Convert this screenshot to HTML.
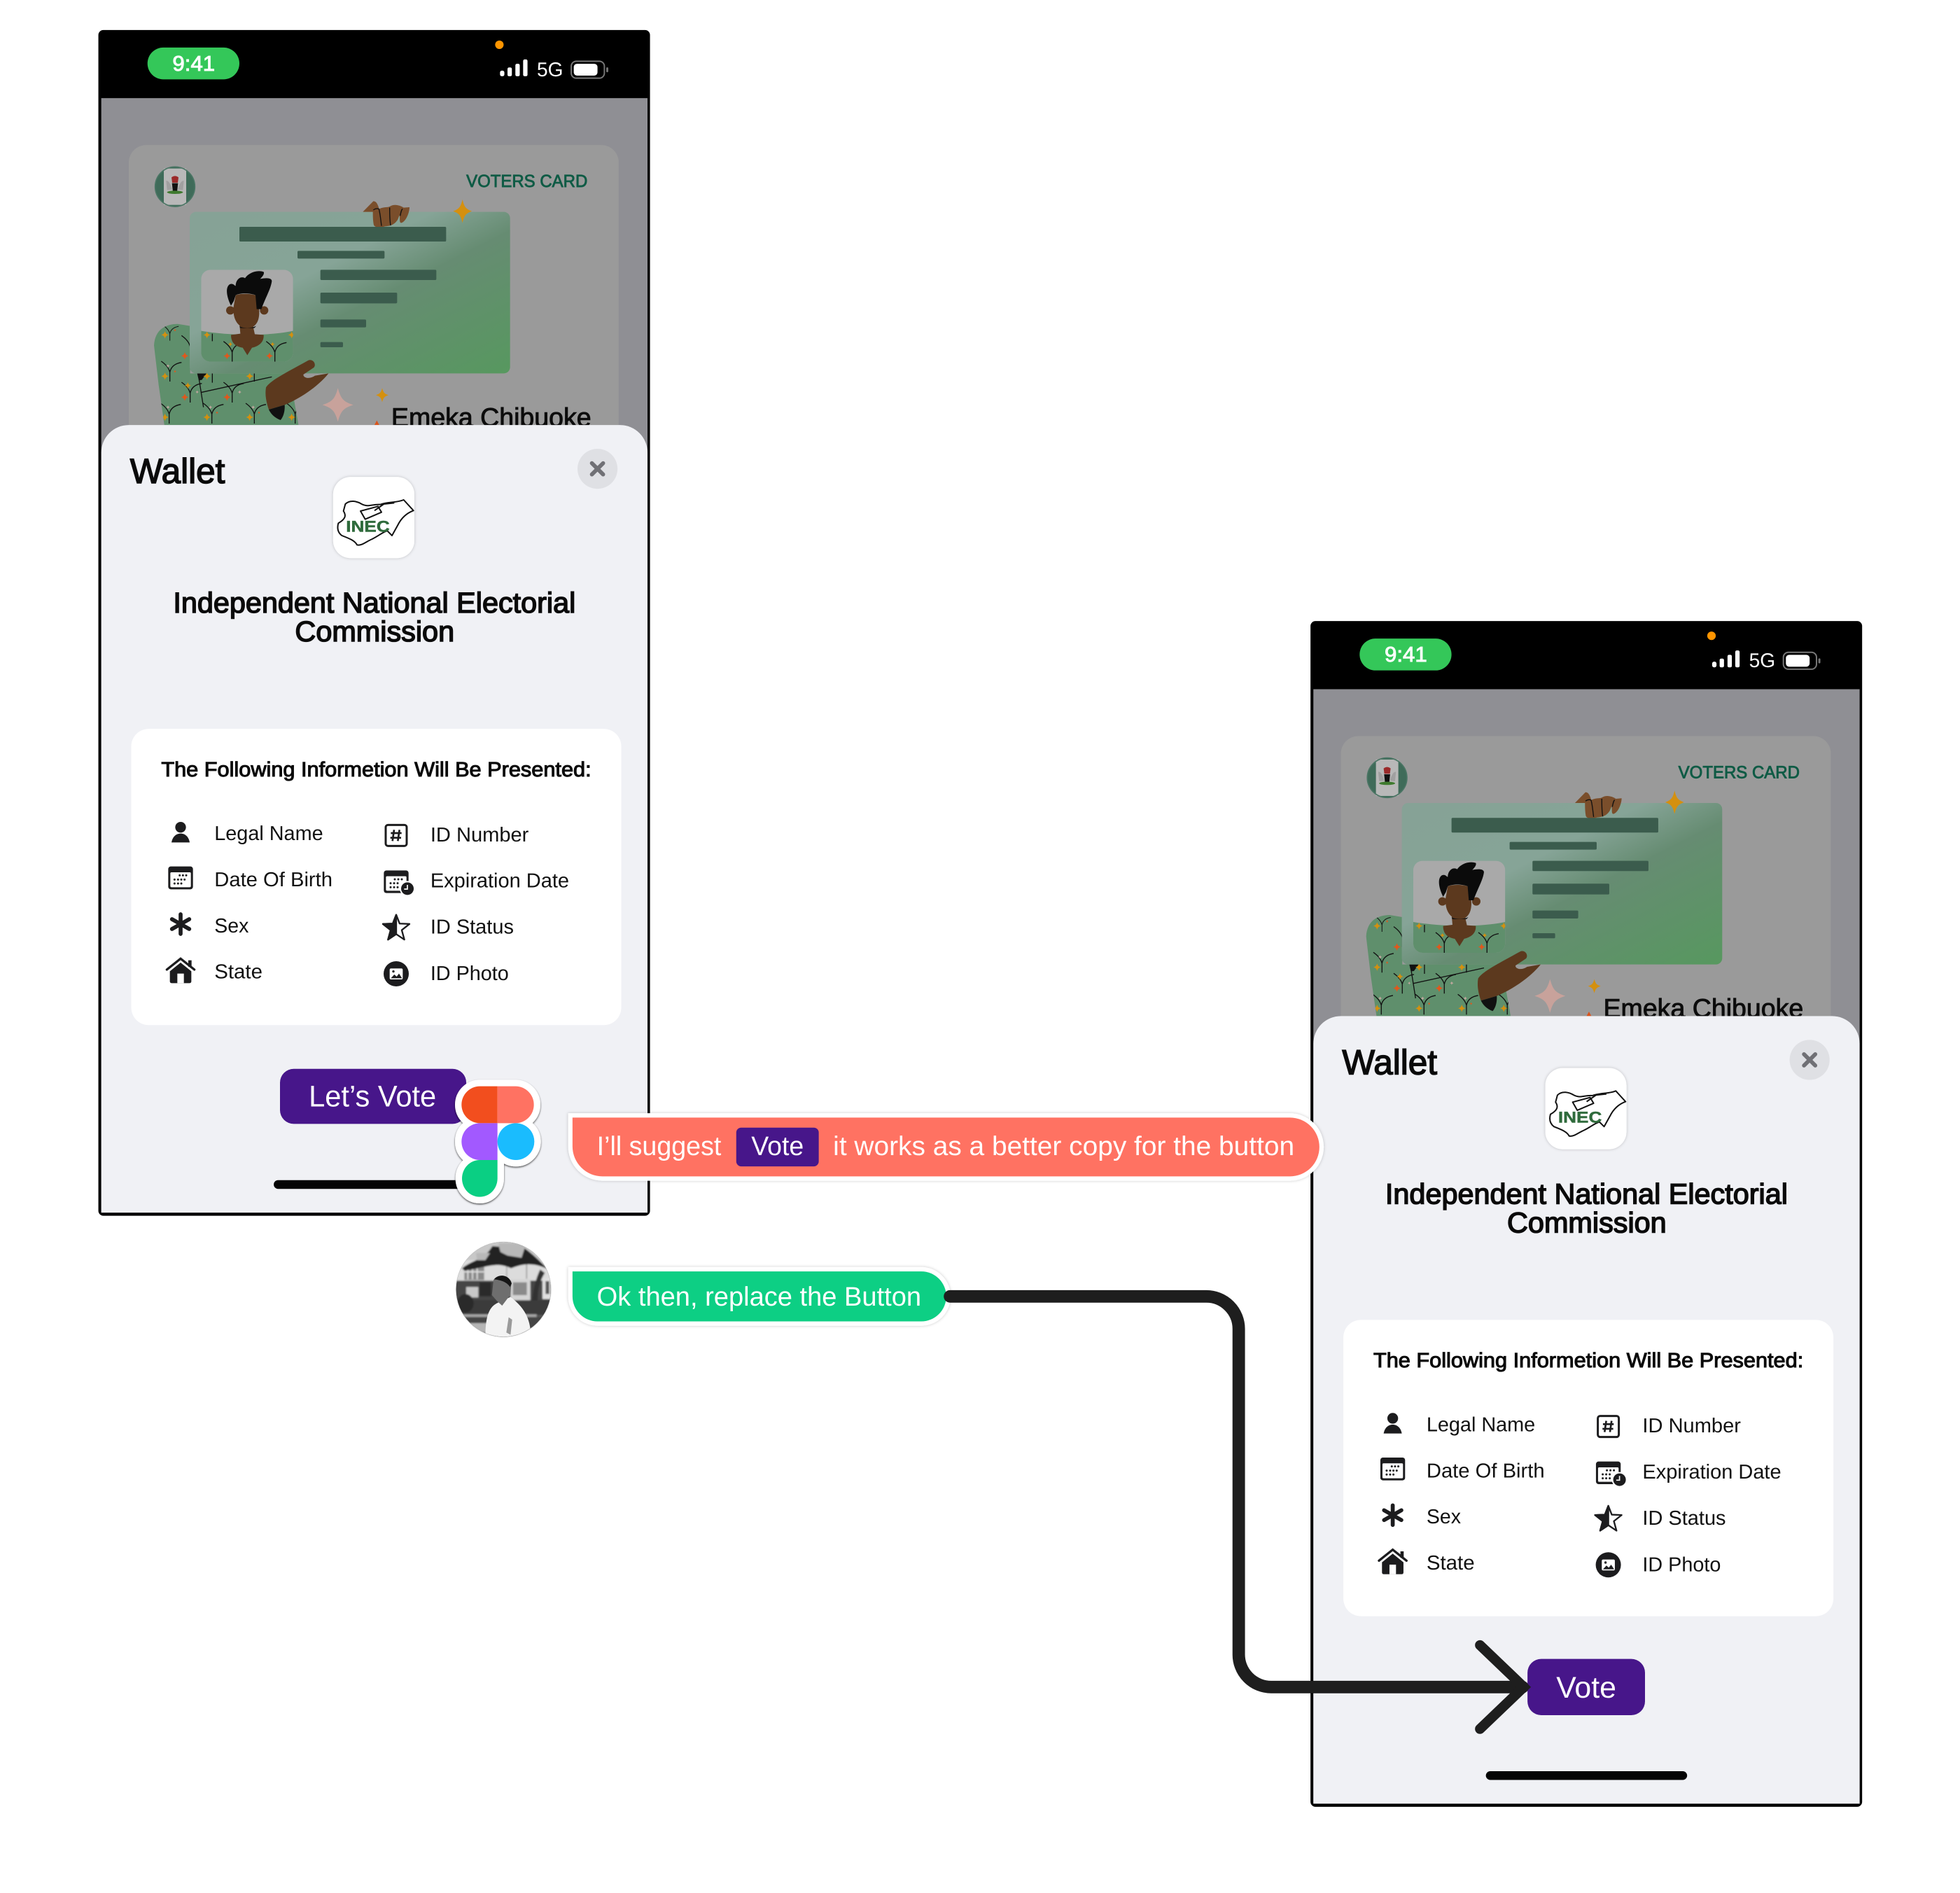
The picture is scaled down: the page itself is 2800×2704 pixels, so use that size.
<!DOCTYPE html>
<html><head><meta charset="utf-8"><title>Wallet button copy review</title>
<style>
html,body{margin:0;padding:0;background:#fff}
svg{display:block;width:2800px;height:2704px}
text{font-family:"Liberation Sans",sans-serif;text-rendering:geometricPrecision}
.l{font-size:16.2px;fill:#111}
.b{fill:#0a0a0a;stroke:#0a0a0a;stroke-width:.85px}
.s{stroke-width:.6px}
.m{stroke-width:.5px}
</style></head><body>
<svg xmlns="http://www.w3.org/2000/svg" viewBox="0 0 1568 1514.24">
<defs>
<linearGradient id="idg" x1="0" y1="0" x2="1" y2="1">
<stop offset="0" stop-color="#86a296"/><stop offset=".38" stop-color="#86a497"/><stop offset=".56" stop-color="#668c72"/><stop offset="1" stop-color="#57985f"/>
</linearGradient>
<clipPath id="bodyclip"><path d="M120 880C125 810 170 790 220 788L275 797V1000H700L740 1225H165L140 1050Z"/></clipPath>
<clipPath id="photoclip"><rect x="322" y="556" width="394" height="394" rx="40"/></clipPath>
<clipPath id="cardclip"><rect x="103" y="116" width="392" height="224"/></clipPath>
<clipPath id="avclip"><circle cx="268" cy="215" r="203"/></clipPath>
<filter id="soft" x="-20%" y="-20%" width="140%" height="140%"><feDropShadow dx="0" dy="0" stdDeviation="1.2" flood-color="#000" flood-opacity=".22"/></filter>
<filter id="fig" x="-20%" y="-20%" width="140%" height="140%"><feDropShadow dx="0" dy="4" stdDeviation="4" flood-color="#000" flood-opacity=".7"/></filter>
<filter id="av" x="-20%" y="-20%" width="140%" height="140%"><feDropShadow dx="0" dy="0.6" stdDeviation="1.2" flood-color="#000" flood-opacity=".55"/></filter>
<filter id="bl" x="-5%" y="-5%" width="110%" height="110%"><feGaussianBlur stdDeviation="3"/></filter>
<path id="st" d="M0-1C.2-.35.35-.2 1 0C.35.2.2.35 0 1C-.2.35-.35.2-1 0C-.35-.2-.2-.35 0-1Z"/>
<path id="y" d="M0 0V-40C-5-60-20-75-37-87M0-40C5-65 25-78 50-82" fill="none" stroke="#111" stroke-width="4"/>

<g id="back">
<rect x="78.700" y="24" width="441.300" height="948.500" rx="4" fill="#000"/>
<rect x="81" y="78.500" width="437" height="891.500" fill="#8f8f94"/>
<g clip-path="url(#cardclip)"><rect x="103" y="116" width="392" height="300" rx="14" fill="#9a9a9a"/></g>
<g clip-path="url(#cardclip)">
<g transform="translate(100.8 112) scale(.18667)">
<circle cx="210" cy="200" r="85" fill="#3f6b59"/>
<rect x="162" y="122" width="96" height="156" fill="#b8b8b8"/>
<circle cx="210" cy="200" r="85" fill="none" stroke="#4a7564" stroke-width="5"/>
<path d="M195 160Q210 148 225 160L222 183H198Z" fill="#9b2a2a"/>
<path d="M172 175C185 172 192 195 198 212L176 215ZM248 175C235 172 228 195 222 212L244 215Z" fill="#a0a0a0"/>
<path d="M197 185H223L219 222H201Z" fill="#111"/>
<ellipse cx="210" cy="224" rx="34" ry="7" fill="#3e7a2e"/>
<g clip-path="url(#bodyclip)">
<rect x="100" y="770" width="700" height="480" fill="#5f8f6c"/>
<use href="#y" transform="translate(188 860) scale(.75)"/>
<use href="#y" transform="translate(188 1035)"/>
<use href="#y" transform="translate(275 1125)"/>
<use href="#y" transform="translate(455 1125)"/>
<use href="#y" transform="translate(185 1215)"/>
<use href="#y" transform="translate(368 1215)"/>
<use href="#y" transform="translate(550 1215)"/>
<use href="#y" transform="translate(725 1215)"/>
<use href="#y" transform="translate(275 925)"/>
<path d="M320 1082L625 1015M310 1005L332 1145M370 1000V1040M550 1000V1035" stroke="#111" stroke-width="4" fill="none"/>
<path d="M305 1000H345L325 1028L312 1030Z" fill="#111"/>
<g fill="#d4900f">
<use href="#st" transform="translate(167 835) scale(16)"/><use href="#st" transform="translate(167 1012) scale(16)"/><use href="#st" transform="translate(347 1012) scale(16)"/><use href="#st" transform="translate(530 1012) scale(16)"/><use href="#st" transform="translate(347 1188) scale(16)"/><use href="#st" transform="translate(530 1188) scale(16)"/><use href="#st" transform="translate(710 1188) scale(16)"/><use href="#st" transform="translate(167 1188) scale(16)"/><use href="#st" transform="translate(265 1052) scale(14)"/>
</g>
<g fill="#e0581c">
<use href="#st" transform="translate(252 925) scale(16)"/><use href="#st" transform="translate(252 1102) scale(16)"/><use href="#st" transform="translate(433 1102) scale(16)"/><use href="#st" transform="translate(210 815) scale(6)"/><use href="#st" transform="translate(210 992) scale(6)"/><use href="#st" transform="translate(390 1168) scale(6)"/><use href="#st" transform="translate(570 1168) scale(6)"/>
</g>
<g fill="#c3a8a0">
<use href="#st" transform="translate(180 968) scale(8)"/><use href="#st" transform="translate(487 1080) scale(8)"/><use href="#st" transform="translate(305 1080) scale(7)"/><use href="#st" transform="translate(362 1145) scale(8)"/><use href="#st" transform="translate(180 1145) scale(8)"/><use href="#st" transform="translate(545 1145) scale(8)"/>
</g>
</g>
<rect x="273" y="308" width="1373" height="692" rx="27" fill="url(#idg)"/>
<path d="M600 1060C620 1030 680 1000 780 945C800 935 818 960 805 975L760 1005C760 1022 790 1025 810 1010L868 1000C820 1060 740 1110 680 1135L612 1155C600 1120 595 1090 600 1060Z" fill="#5c391e"/>
<path d="M612 1155L680 1135C682 1165 672 1190 662 1200C635 1190 620 1172 612 1155Z" fill="#111"/>
<path d="M1015 308L1060 262C1075 262 1080 280 1085 295C1110 285 1120 290 1130 285C1150 272 1175 280 1190 290L1215 288C1215 310 1200 350 1180 355C1170 355 1175 335 1172 322L1165 340C1150 365 1130 368 1110 370C1095 375 1070 378 1062 365C1058 345 1058 325 1058 308Z" fill="#7a4e2b"/>
<path d="M1060 300C1070 292 1085 292 1085 300C1090 320 1092 345 1095 368M1130 290C1130 315 1130 345 1134 366M1185 295C1180 300 1178 310 1175 325" stroke="#111" stroke-width="4" fill="none"/>
<use href="#st" fill="#d4900f" transform="translate(1442 305) scale(40 50)"/>
<g fill="#3b5c4d">
<rect x="486" y="372" width="886" height="63" rx="5"/>
<rect x="735" y="475" width="373" height="33" rx="5"/>
<rect x="833" y="556" width="497" height="44" rx="5"/>
<rect x="833" y="654" width="329" height="46" rx="5"/>
<rect x="833" y="769" width="196" height="34" rx="5"/>
<rect x="833" y="866" width="97" height="22" rx="5"/>
</g>
<g clip-path="url(#photoclip)">
<rect x="322" y="556" width="394" height="394" fill="#a9a9a9"/>
<path d="M322 818C440 838 600 842 716 818V950H322Z" fill="#5f8f6c"/>
<path d="M370 830V862" stroke="#111" stroke-width="4"/>
<use href="#y" transform="translate(455 950)"/>
<use href="#y" transform="translate(638 950)"/>
<use href="#st" fill="#d4900f" transform="translate(347 835) scale(15)"/>
<use href="#st" fill="#d4900f" transform="translate(710 835) scale(15)"/>
<use href="#st" fill="#d4900f" transform="translate(447 875) scale(10)"/>
<use href="#st" fill="#d4900f" transform="translate(628 875) scale(10)"/>
<use href="#st" fill="#e0581c" transform="translate(433 925) scale(15)"/>
<use href="#st" fill="#e0581c" transform="translate(615 925) scale(15)"/>
<circle cx="447" cy="730" r="18" fill="#5c391e"/><circle cx="592" cy="730" r="18" fill="#5c391e"/>
<path d="M470 665C500 655 540 660 555 665L570 720C575 770 560 790 545 800L552 832L590 835C592 872 562 885 540 890L520 922L500 890C470 885 450 870 450 835L490 830L487 795C470 780 460 760 460 720Z" fill="#5c391e"/>
<path d="M450 710C430 670 425 630 445 618C460 612 465 625 470 625C470 600 490 580 510 592C525 570 560 555 590 565C595 575 580 590 575 595C600 590 625 590 625 605C620 640 600 670 580 725L560 725L555 665C530 655 490 655 470 665L462 690Z" fill="#0b0b0b"/>
<path d="M486 798C505 808 535 808 558 797L550 806H490Z" fill="#111"/>
</g>
<use href="#st" fill="#c8a29b" transform="translate(908 1135) scale(66 72)"/>
<use href="#st" fill="#d4900f" transform="translate(1098 1093) scale(27 30)"/>
<path d="M1075 1202L1090 1230H1060Z" fill="#d9541c"/>
</g>
</g>
</g>

<g id="front">
<path d="M81 970V362a22 22 0 0 1 22-22H496a22 22 0 0 1 22 22V970Z" fill="#f0f1f5"/>
<circle cx="478" cy="375" r="16" fill="#dfe0e4"/>
<path d="M473.500 370.500L482.500 379.500M482.500 370.500L473.500 379.500" stroke="#707075" stroke-width="3.200" stroke-linecap="round"/>
<rect x="266.500" y="381.500" width="65" height="65" rx="14" fill="#fff" filter="url(#soft)"/>
<g transform="translate(257.6 375.2) scale(.18667)" fill="none" stroke="#111" stroke-width="6" stroke-linejoin="round">
<path d="M100 150C120 130 150 138 170 150C200 165 210 150 250 152C280 140 320 145 350 132L392 178C360 190 340 210 325 240L300 285L280 265C260 270 245 285 215 300C190 310 170 330 150 325C140 305 110 295 85 285C65 270 65 250 70 232C100 215 105 200 92 180Z" fill="#fff"/>
<path d="M165 180L240 160L255 185L185 215Z" fill="#fff"/>
<path d="M225 178L265 150L310 145"/>
</g>
<rect x="105" y="583" width="392" height="237" rx="14" fill="#fff"/>
<g transform="translate(123.2 644) scale(.18667)" fill="#1c1c1e">
<circle cx="114" cy="95" r="23"/><path d="M75 160C80 132 98 122 114 122C130 122 148 132 153 160Z"/>
<rect x="61" y="263" width="106" height="98" rx="11"/><rect x="70" y="288" width="88" height="64" rx="5" fill="#fff"/>
<g fill="#1c1c1e"><circle cx="110" cy="301" r="4.500"/><circle cx="124" cy="301" r="4.500"/><circle cx="138" cy="301" r="4.500"/><circle cx="88" cy="319" r="4.500"/><circle cx="103" cy="319" r="4.500"/><circle cx="117" cy="319" r="4.500"/><circle cx="131" cy="319" r="4.500"/><circle cx="88" cy="336" r="4.500"/><circle cx="103" cy="336" r="4.500"/><circle cx="117" cy="336" r="4.500"/></g>
<path d="M114 468V552M77 489L151 531M151 489L77 531" stroke="#1c1c1e" stroke-width="17" stroke-linecap="round"/>
<path d="M55 705L114 658L173 705" fill="none" stroke="#1c1c1e" stroke-width="10" stroke-linecap="round"/>
<rect x="147" y="665" width="14" height="28"/>
<path d="M68 712L114 675L160 712V755Q160 763 152 763H76Q68 763 68 755Z"/>
<rect x="100" y="722" width="28" height="41" fill="#fff"/>
</g>
<g transform="translate(296.8 644) scale(.18667)" fill="#1c1c1e">
<rect x="63" y="85" width="90" height="90" rx="10" fill="none" stroke="#1c1c1e" stroke-width="9"/>
<path d="M99 106L92 154M122 106L115 154M85 120H131M83 140H129" stroke="#1c1c1e" stroke-width="8" fill="none"/>
<rect x="55" y="280" width="106" height="97" rx="11"/><rect x="64" y="305" width="88" height="62" rx="5" fill="#fff"/>
<g><circle cx="102" cy="318" r="4.500"/><circle cx="117" cy="318" r="4.500"/><circle cx="132" cy="318" r="4.500"/><circle cx="84" cy="335" r="4.500"/><circle cx="99" cy="335" r="4.500"/><circle cx="114" cy="335" r="4.500"/><circle cx="84" cy="352" r="4.500"/><circle cx="99" cy="352" r="4.500"/><circle cx="114" cy="352" r="4.500"/></g>
<circle cx="156" cy="358" r="33" fill="#fff"/><circle cx="156" cy="358" r="27"/>
<path d="M156 342V360H142" stroke="#fff" stroke-width="5" fill="none"/>
<path d="M108 470L122.700 507.800L165 509.500L131.800 535.700L143 576.500L108 553L73 576.500L84.200 535.700L51 509.500L93.300 507.800Z" fill="#fff" stroke="#1c1c1e" stroke-width="7" stroke-linejoin="round"/>
<path d="M108 470V553L73 576.500L84.200 535.700L51 509.500L93.300 507.800Z" stroke="#1c1c1e" stroke-width="7" stroke-linejoin="round"/>
<circle cx="108" cy="723" r="54"/>
<rect x="80" y="700" width="56" height="47" rx="6" fill="#fff"/>
<path d="M85 742L100 726L110 735L120 722L133 742Z"/><circle cx="96" cy="713" r="5"/>
</g>
<rect x="219" y="944" width="161" height="7" rx="3.500" fill="#040404"/>
</g>
</defs>

<!-- PHONE 2 -->
<g transform="translate(969.700 472.800)">
<use href="#back"/>
<rect x="118" y="38" width="73.500" height="25.500" rx="12.700" fill="#34c759"/>
<text x="138" y="56.500" font-size="17" fill="#fff" stroke="#fff" class="m" textLength="34" lengthAdjust="spacingAndGlyphs">9:41</text>
<circle cx="399.500" cy="35.800" r="3.400" fill="#ff9500"/>
<g fill="#fff"><rect x="400" y="56.500" width="3.500" height="4.500" rx="1.500"/><rect x="406" y="54" width="3.500" height="7" rx="1.200"/><rect x="412.300" y="51" width="3.500" height="10" rx="1.200"/><rect x="418.500" y="47.500" width="3.500" height="13.500" rx="1.200"/></g>
<text x="429.500" y="61" font-size="16" fill="#fff" textLength="21" lengthAdjust="spacingAndGlyphs">5G</text>
<rect x="457" y="49" width="26.500" height="13.500" rx="4" fill="none" stroke="#777" stroke-width="1.100"/><rect x="459" y="51" width="19" height="9.500" rx="2.600" fill="#fff"/><rect x="485" y="53.800" width="1.600" height="4" rx=".8" fill="#777"/>
<text x="373" y="149.500" font-size="14" fill="#0f5b45" stroke="#0f5b45" class="m" textLength="97" lengthAdjust="spacingAndGlyphs">VOTERS CARD</text>
<text x="313" y="341" font-size="21" fill="#0c0c0c" stroke="#0c0c0c" class="m" textLength="160" lengthAdjust="spacingAndGlyphs">Emeka Chibuoke</text>
<use href="#front"/>
<text x="104" y="386.500" font-size="28" class="b" textLength="76" lengthAdjust="spacingAndGlyphs">Wallet</text>
<text x="276.800" y="425.200" font-family="Liberation Serif" font-size="12.500" font-weight="700" fill="#2f6b3c" stroke="#2f6b3c" stroke-width=".25" textLength="35" lengthAdjust="spacingAndGlyphs">INEC</text>
<text x="138.500" y="490" font-size="23" class="b" textLength="322" lengthAdjust="spacingAndGlyphs">Independent National Electorial</text>
<text x="236" y="513" font-size="23" class="b" textLength="127.500" lengthAdjust="spacingAndGlyphs">Commission</text>
<text x="129" y="621" font-size="16.500" class="b s" textLength="344" lengthAdjust="spacingAndGlyphs">The Following Informetion Will Be Presented:</text>
<text x="171.500" y="672" class="l" textLength="87" lengthAdjust="spacingAndGlyphs">Legal Name</text>
<text x="171.500" y="709" class="l" textLength="94.500" lengthAdjust="spacingAndGlyphs">Date Of Birth</text>
<text x="171.500" y="745.800" class="l" textLength="27.500" lengthAdjust="spacingAndGlyphs">Sex</text>
<text x="171.500" y="782.700" class="l" textLength="38.500" lengthAdjust="spacingAndGlyphs">State</text>
<text x="344.300" y="673" class="l" textLength="78.700" lengthAdjust="spacingAndGlyphs">ID Number</text>
<text x="344.300" y="709.800" class="l" textLength="111" lengthAdjust="spacingAndGlyphs">Expiration Date</text>
<text x="344.300" y="746.800" class="l" textLength="66.700" lengthAdjust="spacingAndGlyphs">ID Status</text>
<text x="344.300" y="784" class="l" textLength="62.700" lengthAdjust="spacingAndGlyphs">ID Photo</text>
</g>
<rect x="1222" y="1327" width="94" height="45" rx="11" fill="#47168a"/>
<text x="1245" y="1358" font-size="24" fill="#fff" textLength="48" lengthAdjust="spacingAndGlyphs">Vote</text>

<!-- PHONE 1 -->
<use href="#back"/>
<rect x="118" y="38" width="73.500" height="25.500" rx="12.700" fill="#34c759"/>
<text x="138" y="56.500" font-size="17" fill="#fff" stroke="#fff" class="m" textLength="34" lengthAdjust="spacingAndGlyphs">9:41</text>
<circle cx="399.500" cy="35.800" r="3.400" fill="#ff9500"/>
<g fill="#fff"><rect x="400" y="56.500" width="3.500" height="4.500" rx="1.500"/><rect x="406" y="54" width="3.500" height="7" rx="1.200"/><rect x="412.300" y="51" width="3.500" height="10" rx="1.200"/><rect x="418.500" y="47.500" width="3.500" height="13.500" rx="1.200"/></g>
<text x="429.500" y="61" font-size="16" fill="#fff" textLength="21" lengthAdjust="spacingAndGlyphs">5G</text>
<rect x="457" y="49" width="26.500" height="13.500" rx="4" fill="none" stroke="#777" stroke-width="1.100"/><rect x="459" y="51" width="19" height="9.500" rx="2.600" fill="#fff"/><rect x="485" y="53.800" width="1.600" height="4" rx=".8" fill="#777"/>
<text x="373" y="149.500" font-size="14" fill="#0f5b45" stroke="#0f5b45" class="m" textLength="97" lengthAdjust="spacingAndGlyphs">VOTERS CARD</text>
<text x="313" y="341" font-size="21" fill="#0c0c0c" stroke="#0c0c0c" class="m" textLength="160" lengthAdjust="spacingAndGlyphs">Emeka Chibuoke</text>
<use href="#front"/>
<text x="104" y="386.500" font-size="28" class="b" textLength="76" lengthAdjust="spacingAndGlyphs">Wallet</text>
<text x="276.800" y="425.200" font-family="Liberation Serif" font-size="12.500" font-weight="700" fill="#2f6b3c" stroke="#2f6b3c" stroke-width=".25" textLength="35" lengthAdjust="spacingAndGlyphs">INEC</text>
<text x="138.500" y="490" font-size="23" class="b" textLength="322" lengthAdjust="spacingAndGlyphs">Independent National Electorial</text>
<text x="236" y="513" font-size="23" class="b" textLength="127.500" lengthAdjust="spacingAndGlyphs">Commission</text>
<text x="129" y="621" font-size="16.500" class="b s" textLength="344" lengthAdjust="spacingAndGlyphs">The Following Informetion Will Be Presented:</text>
<text x="171.500" y="672" class="l" textLength="87" lengthAdjust="spacingAndGlyphs">Legal Name</text>
<text x="171.500" y="709" class="l" textLength="94.500" lengthAdjust="spacingAndGlyphs">Date Of Birth</text>
<text x="171.500" y="745.800" class="l" textLength="27.500" lengthAdjust="spacingAndGlyphs">Sex</text>
<text x="171.500" y="782.700" class="l" textLength="38.500" lengthAdjust="spacingAndGlyphs">State</text>
<text x="344.300" y="673" class="l" textLength="78.700" lengthAdjust="spacingAndGlyphs">ID Number</text>
<text x="344.300" y="709.800" class="l" textLength="111" lengthAdjust="spacingAndGlyphs">Expiration Date</text>
<text x="344.300" y="746.800" class="l" textLength="66.700" lengthAdjust="spacingAndGlyphs">ID Status</text>
<text x="344.300" y="784" class="l" textLength="62.700" lengthAdjust="spacingAndGlyphs">ID Photo</text>
<rect x="224" y="855" width="149" height="44" rx="11" fill="#47168a"/>
<text x="247" y="885" font-size="24" fill="#fff" textLength="102" lengthAdjust="spacingAndGlyphs">Let’s Vote</text>
<!-- Figma -->
<g transform="translate(347.2 845.600) scale(.18667)">
<g filter="url(#fig)" fill="#fff" stroke="#fff" stroke-width="56" stroke-linejoin="round">
<rect x="118" y="125" width="310" height="158" rx="79"/>
<rect x="118" y="283" width="154" height="158" rx="77"/>
<rect x="180" y="283" width="92" height="158"/>
<circle cx="351" cy="362" r="79"/>
<path d="M197 441H272V521A76 79 0 1 1 197 441Z"/>
</g>
<path d="M272 125V283H197A79 79 0 0 1 197 125Z" fill="#f24e1e"/>
<path d="M272 125H349A79 79 0 0 1 349 283H272Z" fill="#ff7262"/>
<path d="M272 283V441H197A79 79 0 0 1 197 283Z" fill="#a259ff"/>
<circle cx="351" cy="362" r="79" fill="#1abcfe"/>
<path d="M197 441H272V521A76 79 0 1 1 197 441Z" fill="#0acf83"/>
</g>
<!-- coral tooltip -->
<path d="M458 894H1032A23.500 23.500 0 0 1 1032 941H482A24 24 0 0 1 458 917Z" fill="#ff7262" stroke="#fff" stroke-width="7" paint-order="stroke" filter="url(#soft)"/>
<text x="477.500" y="924" font-size="21.500" fill="#fff" textLength="99.500" lengthAdjust="spacingAndGlyphs">I’ll suggest</text>
<rect x="589" y="902" width="66" height="31" rx="4" fill="#47168a"/>
<text x="601" y="924" font-size="21.500" fill="#fff" textLength="42" lengthAdjust="spacingAndGlyphs">Vote</text>
<text x="666.500" y="924" font-size="21.500" fill="#fff" textLength="369" lengthAdjust="spacingAndGlyphs">it works as a better copy for the button</text>
<!-- avatar -->
<g transform="translate(352.800 991.200) scale(.18667)">
<circle cx="268" cy="215" r="203" fill="#555" filter="url(#av)"/>
<g clip-path="url(#avclip)"><g filter="url(#bl)">
<rect x="50" y="0" width="440" height="100" fill="#c8c8c8"/>
<rect x="50" y="90" width="440" height="90" fill="#dcdcdc"/>
<rect x="100" y="115" width="85" height="60" fill="#8a8a8a"/>
<path d="M115 115V172M135 115V172M155 115V172M100 140H185" stroke="#e5e5e5" stroke-width="5"/>
<rect x="280" y="105" width="3" height="70" fill="#888"/>
<rect x="365" y="100" width="4" height="70" fill="#888"/>
<path d="M90 125C150 80 180 95 220 30L360 40C400 70 430 100 460 130C380 90 330 115 300 125C240 95 200 120 100 135Z" fill="#222"/>
<path d="M245 18H365L345 80L285 70L255 55ZM150 60H210L190 90L155 90Z" fill="#b8b8b8"/>
<rect x="50" y="178" width="440" height="85" fill="#454545"/>
<rect x="108" y="205" width="52" height="45" fill="#c8c8c8"/>
<rect x="165" y="185" width="50" height="60" fill="#2a2a2a"/>
<rect x="298" y="172" width="85" height="90" fill="#d5d5d5"/><rect x="308" y="185" width="60" height="55" fill="#8a8a8a"/>
<rect x="435" y="165" width="36" height="92" fill="#e0e0e0"/><rect x="448" y="180" width="16" height="55" fill="#555"/>
<path d="M425 130C405 170 395 220 390 265H415C412 220 425 175 445 145Z" fill="#333"/>
<rect x="50" y="262" width="440" height="62" fill="#3a3a3a"/>
<ellipse cx="105" cy="275" rx="35" ry="40" fill="#2a2a2a"/>
<rect x="90" y="322" width="320" height="12" fill="#a5a5a5"/>
<rect x="50" y="334" width="440" height="90" fill="#444"/>
<rect x="120" y="360" width="100" height="40" fill="#b5b5b5"/>
</g>
<path d="M190 410C192 330 205 290 245 272L298 248C340 280 375 320 383 385L300 425Z" fill="#f3f3f3"/>
<path d="M290 335L305 345L298 410L280 400Z" fill="#9a9a9a"/>
<path d="M225 175C240 150 290 150 302 190L296 240L262 285L240 265L218 240Z" fill="#6e6e6e"/>
<path d="M228 172C245 148 292 150 303 190L296 205C280 180 250 175 228 172Z" fill="#151515"/>
</g></g>
<!-- green tooltip -->
<path d="M458 1017H737A20 20 0 0 1 737 1057H478A20 20 0 0 1 458 1037Z" fill="#0fcf84" stroke="#fff" stroke-width="7" paint-order="stroke" filter="url(#soft)"/>
<text x="477.500" y="1044.500" font-size="21.500" fill="#fff" textLength="259.500" lengthAdjust="spacingAndGlyphs">Ok then, replace the Button</text>
<!-- connector -->
<path d="M760 1037H965A26 26 0 0 1 991 1063V1323A26 26 0 0 0 1017 1349.500H1218" fill="none" stroke="#1e1e1e" stroke-width="10" stroke-linecap="round"/>
<path d="M1184 1316L1219 1349.500L1184 1383" fill="none" stroke="#1e1e1e" stroke-width="8" stroke-linecap="round" stroke-linejoin="miter"/>
</svg>
</body></html>
